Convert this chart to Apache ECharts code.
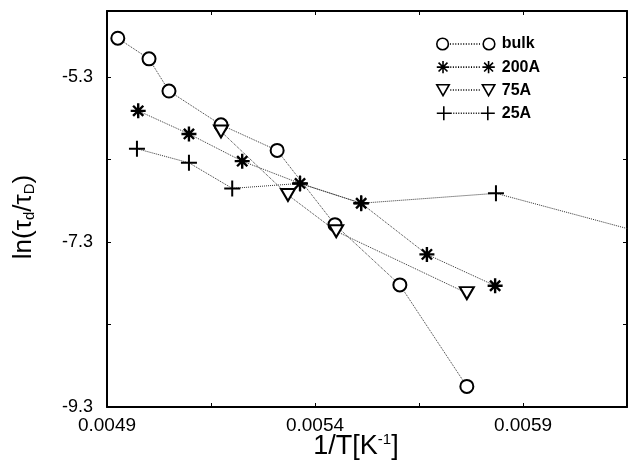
<!DOCTYPE html>
<html>
<head>
<meta charset="utf-8">
<script src="https://cdn.jsdelivr.net/npm/echarts@6/dist/echarts.min.js"></script>
<style>
    html, body { margin: 0; padding: 0; background: #fff; }
    #main { width: 631px; height: 463px; }
</style>
</head>
<body>
<div id="main"></div>
<script>
    // values: x = 1/T [1/K], y = ln(tau_d/tau_D)
    var bulkX = [0.004926, 0.005001, 0.005049, 0.005174, 0.005309, 0.005448, 0.005604, 0.005765];
    var bulkY = [-4.83, -5.08, -5.47, -5.88, -6.19, -7.09, -7.82, -9.05];

    var a200X = [0.004975, 0.005097, 0.005225, 0.005364, 0.005511, 0.005669, 0.005833];
    var a200Y = [-5.71, -5.99, -6.32, -6.59, -6.83, -7.45, -7.83];

    var a75X = [0.005174, 0.005335, 0.005451, 0.005765];
    var a75Y = [-5.96, -6.73, -7.17, -7.92];

    var a25X = [0.004972, 0.005097, 0.005201, 0.005364, 0.005511, 0.005835, 0.00633];
    var a25Y = [-6.17, -6.34, -6.65, -6.59, -6.83, -6.71, -7.38];

    function pairs(xs, ys) {
        return xs.map(function (x, i) {
            return [x, ys[i]];
        });
    }

    var starPath = 'path://M5,0L5,10M0,5L10,5M1.6,1.6L8.4,8.4M8.4,1.6L1.6,8.4';
    var plusPath = 'path://M5,0L5,10M0,5L10,5';
    var downTri = 'path://M0,0L10,0L5,8.7Z';

    // legend icons: marker - dotted line - marker, like the old gnuplot key
    function keyIcon(shape) {
        var d = shape(7) + shape(51);
        for (var x = 14; x <= 43; x += 2.5) {
            d += 'M' + x + ',7L' + (x + 1) + ',7';
        }
        return 'path://' + d;
    }
    function circleAt(cx) {
        return 'M' + (cx - 5.5) + ',7A5.5,5.5,0,1,1,' + (cx + 5.5) + ',7A5.5,5.5,0,1,1,' + (cx - 5.5) + ',7Z';
    }
    function starAt(cx) {
        return 'M' + cx + ',1L' + cx + ',13M' + (cx - 6) + ',7L' + (cx + 6) + ',7' +
            'M' + (cx - 4.3) + ',2.7L' + (cx + 4.3) + ',11.3M' + (cx + 4.3) + ',2.7L' + (cx - 4.3) + ',11.3';
    }
    function triAt(cx) {
        return 'M' + (cx - 6) + ',2L' + (cx + 6) + ',2L' + cx + ',12.5Z';
    }
    function plusAt(cx) {
        return 'M' + cx + ',0L' + cx + ',14M' + (cx - 7) + ',7L' + (cx + 7) + ',7';
    }

    var line = {type: 'dotted', color: '#333', width: 1};
    var font = 'Liberation Sans, Arial, sans-serif';

    var chart = echarts.init(document.getElementById('main'));
    chart.setOption({
        animation: false,
        grid: {left: 107, right: 4, top: 11, bottom: 56, outerBoundsMode: 'none'},
        legend: {
            left: 431,
            top: 31,
            orient: 'vertical',
            itemWidth: 58,
            itemHeight: 14,
            itemGap: 7.1,
            textStyle: {fontFamily: font, fontSize: 16, fontWeight: 'bold', color: '#000', padding: [0, 0, 0, 2]},
            data: [
                {name: 'bulk', icon: keyIcon(circleAt), itemStyle: {borderWidth: 1.6}},
                {name: '200A', icon: keyIcon(starAt), itemStyle: {borderWidth: 1.6}},
                {name: '75A', icon: keyIcon(triAt), itemStyle: {borderWidth: 1.6}},
                {name: '25A', icon: keyIcon(plusAt), itemStyle: {borderWidth: 1.6}}
            ]
        },
        xAxis: [{
            type: 'value',
            min: 0.0049,
            max: 0.00615,
            interval: 0.00025,
            name: '1/T[K{sup|-1}]',
            nameLocation: 'middle',
            nameMoveOverlap: false,
            nameGap: 25,
            nameTextStyle: {
                fontFamily: font, fontSize: 27, color: '#000', padding: [0, 22, 0, 0],
                rich: {sup: {fontFamily: font, fontSize: 15, color: '#000', verticalAlign: 'top', padding: [0, 0, 14, 0]}}
            },
            axisLine: {lineStyle: {color: '#000', width: 2}},
            axisTick: {inside: true, length: 4, lineStyle: {color: '#000'}},
            splitLine: {show: false},
            axisLabel: {
                fontFamily: font, fontSize: 19, color: '#000', margin: 9,
                showMaxLabel: false,
                formatter: function (v) {
                    var k = Math.round((v - 0.0049) / 0.00025);
                    return k % 2 === 0 && v < 0.006 ? v.toFixed(4) : '';
                }
            }
        }, {
            type: 'value',
            position: 'top',
            min: 0.0049,
            max: 0.00615,
            interval: 0.00025,
            axisLine: {lineStyle: {color: '#000', width: 2}},
            axisTick: {inside: true, length: 4, lineStyle: {color: '#000'}},
            axisLabel: {show: false},
            splitLine: {show: false}
        }],
        yAxis: [{
            type: 'value',
            min: -9.3,
            max: -4.5,
            interval: 1,
            name: 'ln(τ{sub|d}/τ{sub|D}){gap|}',
            nameLocation: 'middle',
            nameMoveOverlap: false,
            nameRotate: 90,
            nameGap: 70,
            nameTextStyle: {
                fontFamily: font, fontSize: 26, color: '#000',
                rich: {
                    sub: {fontFamily: font, fontSize: 15, color: '#000', verticalAlign: 'bottom', padding: [12, 0, 0, 0]},
                    gap: {width: 16}
                }
            },
            axisLine: {lineStyle: {color: '#000', width: 2}},
            axisTick: {inside: true, length: 4, lineStyle: {color: '#000'}},
            splitLine: {show: false},
            axisLabel: {
                fontFamily: font, fontSize: 18, color: '#000', margin: 14,
                showMaxLabel: false,
                formatter: function (v) {
                    var k = Math.round(v + 9.3);
                    return k % 2 === 0 && v < -4.8 ? v.toFixed(1) : '';
                }
            }
        }, {
            type: 'value',
            position: 'right',
            min: -9.3,
            max: -4.5,
            interval: 1,
            axisLine: {lineStyle: {color: '#000', width: 2}},
            axisTick: {inside: true, length: 4, lineStyle: {color: '#000'}},
            axisLabel: {show: false},
            splitLine: {show: false}
        }],
        series: [
            {
                name: 'bulk',
                type: 'line',
                data: pairs(bulkX, bulkY),
                symbol: 'circle',
                symbolSize: 13,
                lineStyle: line,
                itemStyle: {color: '#fff', borderColor: '#000', borderWidth: 2}
            },
            {
                name: '200A',
                type: 'line',
                data: pairs(a200X, a200Y),
                symbol: starPath,
                symbolSize: 15,
                lineStyle: line,
                itemStyle: {color: '#000', borderColor: '#000', borderWidth: 2.4}
            },
            {
                name: '75A',
                type: 'line',
                data: pairs(a75X, a75Y),
                symbol: downTri,
                symbolSize: [14, 12],
                lineStyle: line,
                itemStyle: {color: '#fff', borderColor: '#000', borderWidth: 2}
            },
            {
                name: '25A',
                type: 'line',
                data: pairs(a25X, a25Y),
                symbol: plusPath,
                symbolSize: 16,
                clip: true,
                lineStyle: line,
                itemStyle: {color: '#000', borderColor: '#000', borderWidth: 2}
            }
        ]
    });
</script>
</body>
</html>
